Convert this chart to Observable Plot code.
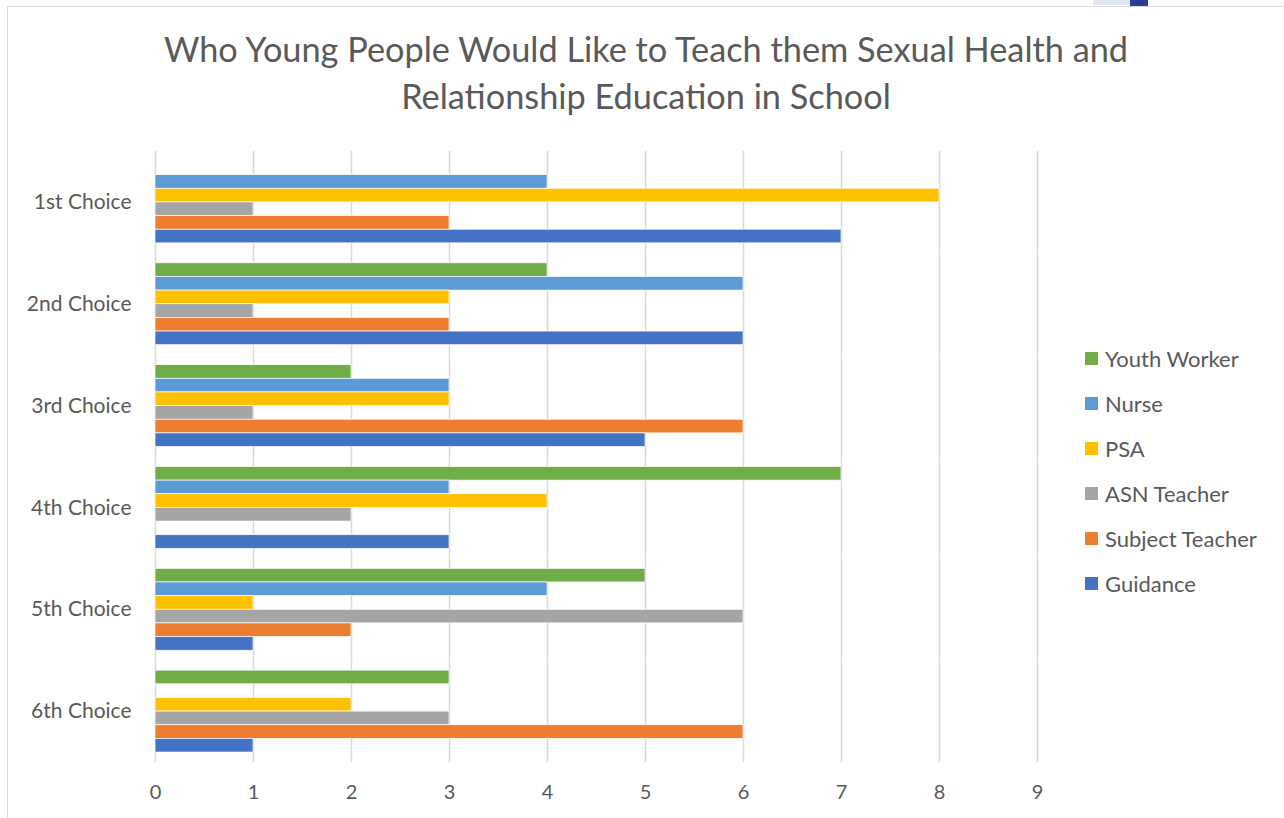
<!DOCTYPE html>
<html>
<head>
<meta charset="utf-8">
<script src="https://cdn.jsdelivr.net/npm/d3@7"></script>
<script src="https://cdn.jsdelivr.net/npm/@observablehq/plot@0.6"></script>
<style>
  html, body { margin: 0; padding: 0; background: #fff; }
  #page { position: relative; width: 1284px; height: 818px; overflow: hidden; font-family: Lato, "Open Sans", sans-serif; color: #595959; }
  #frame { position: absolute; left: 7px; top: 6px; width: 1400px; height: 900px; border-left: 1.5px solid #d9d9d9; border-top: 1.5px solid #d9d9d9; }
  #chart { position: absolute; left: 0; top: 0; }
  #title { position: absolute; left: 0; width: 1292px; top: 25px; text-align: center; font-size: 34.3px; line-height: 47px; color: #595959; }
  #legend { position: absolute; left: 1085px; top: 336px; font-size: 22px; }
  .item { display: flex; align-items: center; height: 45px; }
  .item .sw { width: 13px; height: 13px; margin-right: 7px; }
  .deco1 { position: absolute; left: 1093px; top: 0; width: 37px; height: 5px; background: #dfe4f1; }
  .deco2 { position: absolute; left: 1130px; top: 0; width: 18px; height: 6px; background: #2b3d93; }
</style>
</head>
<body>
<div id="page">
  <div id="frame"></div>
  <div class="deco1"></div><div class="deco2"></div>
  <div id="chart"></div>
  <div id="title">Who Young People Would Like to Teach them Sexual Health and<br>Relationship Education in School</div>
  <div id="legend"></div>
</div>
<script>
// Ranked choices and the staff roles young people picked for each
const categories = ["1st Choice", "2nd Choice", "3rd Choice", "4th Choice", "5th Choice", "6th Choice"];
const series = ["Youth Worker", "Nurse", "PSA", "ASN Teacher", "Subject Teacher", "Guidance"];
const colors = ["#70ad47", "#5b9bd5", "#ffc000", "#a5a5a5", "#ed7d31", "#4472c4"];

// Counts per choice, in the order of categories above
const youthWorker    = [0, 4, 2, 7, 5, 3];
const nurse          = [4, 6, 3, 3, 4, 0];
const psa            = [8, 3, 3, 4, 1, 2];
const asnTeacher     = [1, 1, 1, 2, 6, 3];
const subjectTeacher = [3, 3, 6, 0, 2, 6];
const guidance       = [7, 6, 5, 3, 1, 1];

const xTicks = [0, 1, 2, 3, 4, 5, 6, 7, 8, 9];

const valuesBySeries = [youthWorker, nurse, psa, asnTeacher, subjectTeacher, guidance];
const rows = [];
categories.forEach((c, i) => {
  series.forEach((s, j) => {
    const v = valuesBySeries[j][i];
    if (v > 0) rows.push({category: c, series: s, value: v});
  });
});

const chart = Plot.plot({
  width: 1284,
  height: 818,
  marginTop: 151,
  marginBottom: 56,
  marginLeft: 155,
  marginRight: 247,
  x: {domain: [0, 9], ticks: xTicks},
  y: {domain: series, paddingInner: 0, paddingOuter: 0.73, round: false, axis: null},
  fy: {domain: categories, padding: 0, round: false, label: null},
  color: {domain: series, range: colors},
  style: {fontFamily: "Lato, 'Open Sans', sans-serif", fontSize: "20px", color: "#595959", background: "transparent"},
  marks: [
    Plot.ruleX(xTicks, {x: d => d, stroke: "#d9d9d9", strokeWidth: 1.5}),
    Plot.barX(rows, {x: "value", y: "series", fy: "category", fill: "series", stroke: "white", strokeWidth: 0.7}),
    Plot.axisX({ticks: xTicks, tickSize: 0, tickPadding: 22, label: null, fill: "#595959"}),
    Plot.axisFy({anchor: "left", tickSize: 0, tickPadding: 24, label: null, fill: "#595959", fontSize: 21})
  ]
});
document.getElementById("chart").appendChild(chart);

// Legend, listed top to bottom in the same order as the bars
const legend = document.getElementById("legend");
series.forEach((s, j) => {
  const item = document.createElement("div");
  item.className = "item";
  item.innerHTML = `<span class="sw" style="background:${colors[j]}"></span><span>${s}</span>`;
  legend.appendChild(item);
});
</script>
</body>
</html>
